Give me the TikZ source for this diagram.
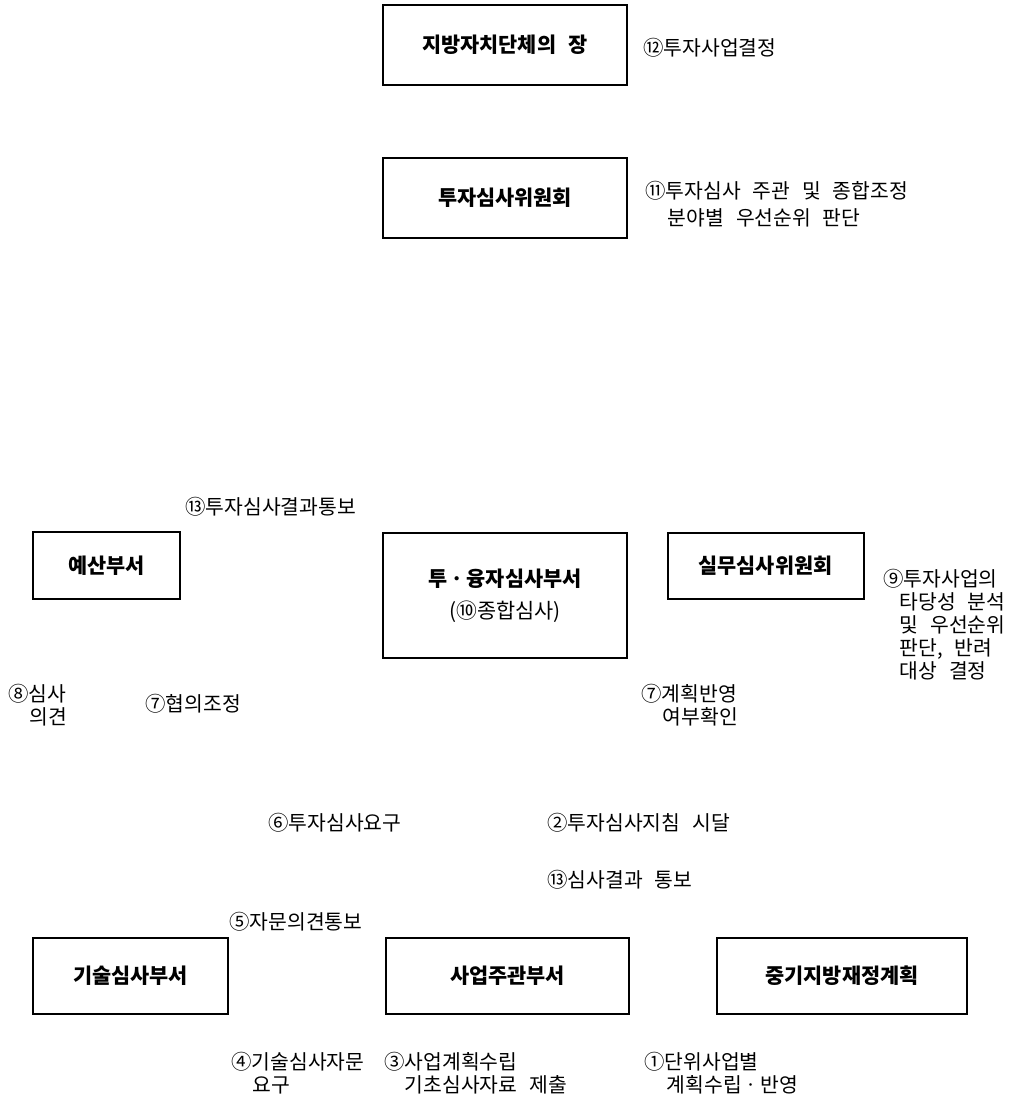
\documentclass[tikz,border=0pt]{standalone}
\usepackage{fontspec}
\newfontfamily\kr[WordSpace=2.6]{Noto Sans CJK KR}
\usepackage{tikz}
\usetikzlibrary{positioning}

\begin{document}
\begin{tikzpicture}[x=0.5pt,y=-0.5pt,
  box/.style={draw,line width=1pt,inner sep=0pt,align=center,
    font=\kr\bfseries\fontsize{10.4}{13}\selectfont},
  lab/.style={anchor=west,inner sep=0pt,align=left,
    font=\kr\fontsize{10.2}{11.5}\selectfont}]
\useasboundingbox (0,0) rectangle (1016,1099);

% boxes
\node[box,minimum width=122pt,minimum height=40pt] (chief) at (505,45) {지방자치단체의 장};
\node[box,minimum width=122pt,minimum height=40pt] (council) at (505,198) {투자심사위원회};
\node[box,minimum width=73.5pt,minimum height=33.5pt] (budget) at (106.5,565.5) {예산부서};
\node[box,minimum width=122pt,minimum height=62.5pt] (invest) at (505,595.5)
  {투ㆍ융자심사부서\\[3pt]{\mdseries(⑩종합심사)}};
\node[box,minimum width=98pt,minimum height=33pt] (working) at (765.5,566) {실무심사위원회};
\node[box,minimum width=97.5pt,minimum height=38pt] (tech) at (130.5,976) {기술심사부서};
\node[box,minimum width=121.5pt,minimum height=38pt] (dept) at (507.5,976) {사업주관부서};
\node[box,minimum width=125pt,minimum height=38pt] (midplan) at (842,976) {중기지방재정계획};

% one-line labels
\foreach \nm/\px/\py/\txt in {l12/643/48/{⑫투자사업결정},
    l13a/185/507/{⑬투자심사결과통보}, l7a/145/704/{⑦협의조정},
    l6/268/823/{⑥투자심사요구}, l2/547/823/{②투자심사지침 시달},
    l13b/547/880/{⑬심사결과 통보}, l5/229/922/{⑤자문의견통보}}
  \node[lab] (\nm) at (\px,\py) {\txt};

% labels on more lines
\node[lab] (l11) at (645,204) {⑪투자심사 주관 및 종합조정\\[2pt]\hspace*{1.1em}분야별 우선순위 판단};
\node[lab] (l8) at (8,705) {⑧심사\\\hspace*{1.05em}의견};
\node[lab] (l7b) at (641,705) {⑦계획반영\\\hspace*{1.05em}여부확인};
\node[lab] (l9) at (883,625) {⑨투자사업의\\\hspace*{0.8em}타당성 분석\\\hspace*{0.8em}및 우선순위\\
  \hspace*{0.8em}판단, 반려\\\hspace*{0.8em}대상 결정};
\node[lab] (l4) at (231,1073) {④기술심사자문\\\hspace*{1.05em}요구};
\node[lab] (l3) at (384,1073) {③사업계획수립\\\hspace*{1em}기초심사자료 제출};
\node[lab] (l1) at (644,1073) {①단위사업별\\\hspace*{1.1em}계획수립ㆍ반영};
\end{tikzpicture}
\end{document}
